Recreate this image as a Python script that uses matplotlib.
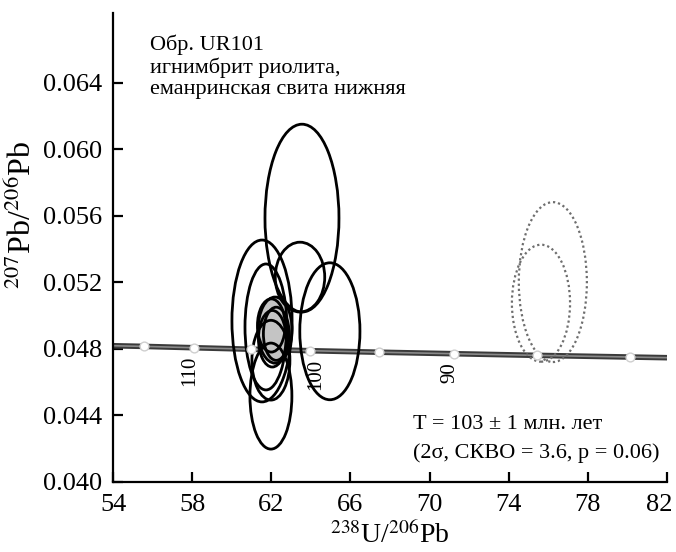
import matplotlib
matplotlib.use("Agg")
import matplotlib.pyplot as plt
from matplotlib.patches import Ellipse
from matplotlib.transforms import ScaledTranslation

plt.rcParams['font.family'] = ['Liberation Serif', 'DejaVu Serif']
plt.rcParams['mathtext.fontset'] = 'stix'

# concordia (Tera-Wasserburg) points
conc_age = [115, 110, 105, 100, 95, 90, 85, 80]
conc_x = [55.57, 58.09, 60.97, 63.98, 67.42, 71.23, 75.43, 80.13]
conc_y = [0.04814, 0.04806, 0.04797, 0.04788, 0.04779, 0.04770, 0.04760, 0.04750]
line_x = [54.0] + conc_x + [82.0]
line_y = [0.04818] + conc_y + [0.04746]
labeled_ages = {110: -3, 100: 4, 90: -3}   # age -> horizontal nudge (pt)

# error ellipses: centre x, centre y, half-width, half-height
ell_cx = [63.55, 61.53, 61.73, 63.45, 64.96, 61.98, 61.98, 62.00, 62.25, 62.05]
ell_cy = [0.05586, 0.04967, 0.04931, 0.05231, 0.04905, 0.04515, 0.04731, 0.04940, 0.04890, 0.04860]
ell_rx = [1.87, 1.52, 1.06, 1.25, 1.52, 1.06, 0.96, 0.70, 0.65, 0.70]
ell_ry = [0.00565, 0.00487, 0.00379, 0.00210, 0.00412, 0.00319, 0.00240, 0.00160, 0.00160, 0.00170]

# weighted mean ellipse (grey)
mean_cx, mean_cy, mean_rx, mean_ry = 62.19, 0.04912, 0.86, 0.00199

# discarded analyses (dotted)
dot_cx = [76.23, 75.63]
dot_cy = [0.05201, 0.05074]
dot_rx = [1.72, 1.47]
dot_ry = [0.00481, 0.00352]

fig = plt.figure(figsize=(6.76, 5.52), dpi=100)
ax = fig.add_axes([0.1672, 0.1274, 0.8195, 0.849])

ax.plot(line_x, line_y, color='#3a3a3a', lw=4.0, solid_capstyle='butt', zorder=2)
ax.plot(line_x, line_y, color='#8a8a8a', lw=1.2, solid_capstyle='butt', zorder=2)

ax.add_patch(Ellipse((mean_cx, mean_cy), 2 * mean_rx, 2 * mean_ry,
                     facecolor='#c4c4c4', edgecolor='black', lw=2.0, zorder=3))
for cx, cy, rx, ry in zip(ell_cx, ell_cy, ell_rx, ell_ry):
    ax.add_patch(Ellipse((cx, cy), 2 * rx, 2 * ry, fill=False,
                         edgecolor='black', lw=2.0, zorder=4))
for cx, cy, rx, ry in zip(dot_cx, dot_cy, dot_rx, dot_ry):
    ax.add_patch(Ellipse((cx, cy), 2 * rx, 2 * ry, fill=False,
                         edgecolor='#6e6e6e', lw=1.6, linestyle=(0, (1, 1.3)), zorder=4))

ax.scatter(conc_x, conc_y, s=40, facecolor='white', edgecolor='#cfcfcf',
           linewidths=1.0, zorder=5)
for a, x, y in zip(conc_age, conc_x, conc_y):
    if a in labeled_ages:
        ax.annotate(str(a), (x, y), xytext=(labeled_ages[a], -6), textcoords='offset points',
                    rotation=90, ha='center', va='top', fontsize=15, zorder=6)

ax.set_xlim(54, 82)
ax.set_ylim(0.040, 0.0682)
ax.set_xticks([54, 58, 62, 66, 70, 74, 78, 82])
ax.set_yticks([0.040, 0.044, 0.048, 0.052, 0.056, 0.060, 0.064])
ax.set_yticklabels(['0.040', '0.044', '0.048', '0.052', '0.056', '0.060', '0.064'])
ax.spines['top'].set_visible(False)
ax.spines['right'].set_visible(False)
for s in ['left', 'bottom']:
    ax.spines[s].set_linewidth(1.6)
ax.tick_params(direction='in', length=7, width=1.6, labelsize=19)
ax.tick_params(axis='x', pad=9)
ax.tick_params(axis='y', pad=8)

# last x label is pulled left so it stays inside the figure
last = ax.get_xticklabels()[-1]
last.set_transform(last.get_transform() + ScaledTranslation(-0.08, 0, fig.dpi_scale_trans))

ax.set_xlabel('$^{238}$U/$^{206}$Pb', fontsize=20, labelpad=4)
ax.set_ylabel('$^{207}$Pb/$^{206}$Pb', fontsize=23)
ax.yaxis.set_label_coords(-0.135, 0.57)

ax.text(0.067, 0.955, 'Обр. UR101\nигнимбрит риолита,\nеманринская свита нижняя',
        transform=ax.transAxes, ha='left', va='top', fontsize=16, linespacing=1.17)
ax.text(0.541, 0.142, 'T = 103 ± 1 млн. лет\n(2σ, СКВО = 3.6, p = 0.06)',
        transform=ax.transAxes, ha='left', va='top', fontsize=16, linespacing=1.6)

fig.savefig('out.png', dpi=100)
